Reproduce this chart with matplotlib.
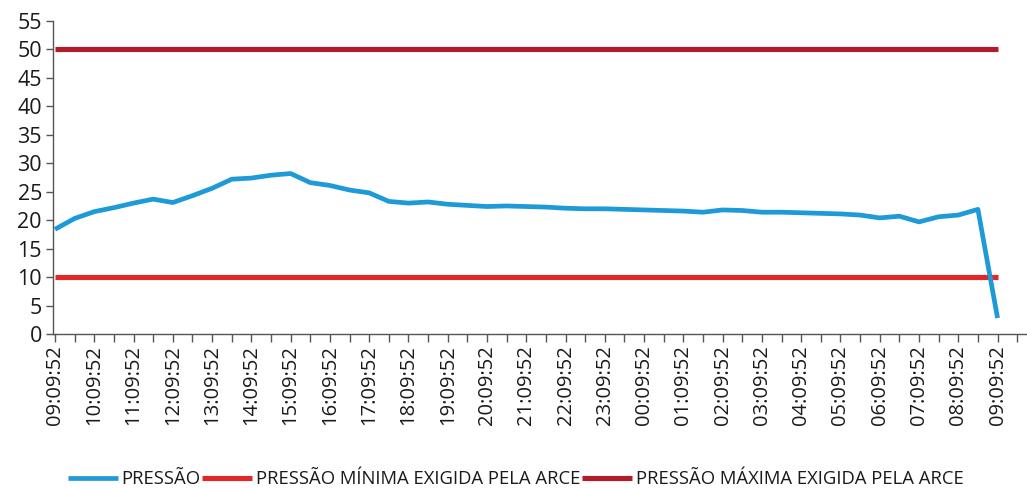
import matplotlib
matplotlib.use("Agg")
import matplotlib.pyplot as plt
from matplotlib.ticker import MultipleLocator

plt.rcParams['font.family'] = ['Open Sans', 'DejaVu Sans']

# half-hourly readings from 09:09:52 to 09:09:52 next day
pressure = [18.4, 20.3, 21.5, 22.2, 23.0, 23.7, 23.1, 24.3, 25.6, 27.2,
            27.4, 27.9, 28.2, 26.6, 26.1, 25.3, 24.8, 23.3, 23.0, 23.2,
            22.8, 22.6, 22.4, 22.5, 22.4, 22.3, 22.1, 22.0, 22.0, 21.9,
            21.8, 21.7, 21.6, 21.4, 21.8, 21.7, 21.4, 21.4, 21.3, 21.2,
            21.1, 20.9, 20.4, 20.7, 19.7, 20.6, 20.9, 21.9, 2.8]
min_required = 10
max_required = 50
hour_labels = ["09:09:52", "10:09:52", "11:09:52", "12:09:52", "13:09:52",
               "14:09:52", "15:09:52", "16:09:52", "17:09:52", "18:09:52",
               "19:09:52", "20:09:52", "21:09:52", "22:09:52", "23:09:52",
               "00:09:52", "01:09:52", "02:09:52", "03:09:52", "04:09:52",
               "05:09:52", "06:09:52", "07:09:52", "08:09:52", "09:09:52"]
series_names = ["PRESSÃO", "PRESSÃO MÍNIMA EXIGIDA PELA ARCE",
                "PRESSÃO MÁXIMA EXIGIDA PELA ARCE"]

n = len(pressure)
x = list(range(n))

fig = plt.figure(figsize=(10.27, 4.88), dpi=100)
ax = fig.add_axes([53/1027, 1 - 334/488, 1 - 53/1027, (334 - 21)/488])

blue = '#1e9ad8'
red_min = '#e0282a'
red_max = '#b01c28'

ax.plot(x, pressure, color=blue, lw=3.4, solid_capstyle='butt', label=series_names[0], zorder=3)
ax.plot(x, [min_required] * n, color=red_min, lw=3.7, solid_capstyle='butt', label=series_names[1], zorder=2)
ax.plot(x, [max_required] * n, color=red_max, lw=3.7, solid_capstyle='butt', label=series_names[2], zorder=2)

ax.set_ylim(0, 55)
ax.set_xlim(-0.1, 49.5)
ax.yaxis.set_major_locator(MultipleLocator(5))
ax.set_xticks(list(range(0, n, 2)))
ax.set_xticklabels(hour_labels, rotation=90)
ax.set_xticks(list(range(1, n + 1, 2)), minor=True)

for s in ['top', 'right']:
    ax.spines[s].set_visible(False)
for s in ['left', 'bottom']:
    ax.spines[s].set_color('#555555')
    ax.spines[s].set_linewidth(1.0)

ax.tick_params(axis='y', length=5, width=1, color='#555555', labelsize=15.5,
               labelcolor='#1a1a1a', pad=3)
ax.tick_params(axis='x', which='both', length=6, width=1, color='#555555',
               labelsize=14.5, labelcolor='#1a1a1a', pad=2)

leg = fig.legend(loc='center', bbox_to_anchor=(0.502, 0.018), ncol=3, frameon=False,
                 fontsize=13.3, handlelength=2.7, handletextpad=0.2,
                 columnspacing=0.1)
for t in leg.get_texts():
    t.set_color('#1a1a1a')

fig.savefig('out.png', dpi=100)
